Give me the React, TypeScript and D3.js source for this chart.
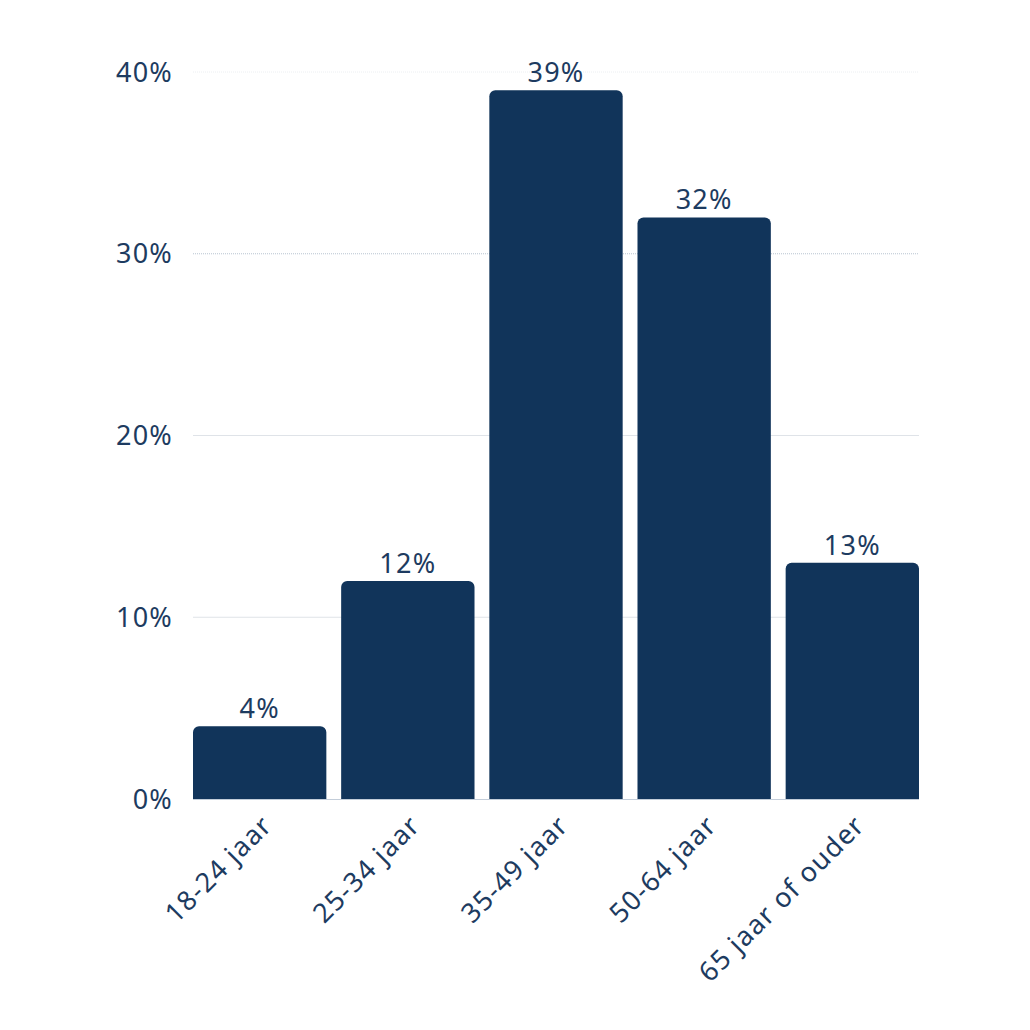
import { useEffect, useRef } from "react";
import * as d3 from "d3";

const categories = [
  "18-24 jaar",
  "25-34 jaar",
  "35-49 jaar",
  "50-64 jaar",
  "65 jaar of ouder",
];
const values = [4, 12, 39, 32, 13];
const yTicks = [0, 10, 20, 30, 40];

const BAR_COLOR = "#11345a";
const TEXT_COLOR = "#1d3b60";
const FONT = "'Noto Sans', sans-serif";
const FONT_SIZE = 27;
const SPACING = 1.2;

export default function App() {
  const svgRef = useRef<SVGSVGElement>(null);

  useEffect(() => {
    const svg = svgRef.current;
    if (!svg) return;
    const selection = d3.select(svg);
    selection.selectAll("*").remove();

    const margin = { top: 72, right: 111, bottom: 231, left: 193 };
    const width = 1030 - margin.left - margin.right;
    const height = 1030 - margin.top - margin.bottom;

    const g = selection
      .append("g")
      .attr("transform", `translate(${margin.left},${margin.top})`);

    const xScale = d3
      .scaleBand<string>()
      .domain(categories)
      .range([0, width])
      .paddingInner(0.1)
      .paddingOuter(0);

    const yScale = d3.scaleLinear().domain([0, 40]).range([height, 0]);

    // Grid lines
    g.append("g")
      .selectAll("line")
      .data(yTicks.filter((t) => t > 0))
      .enter()
      .append("line")
      .attr("x1", 0)
      .attr("x2", width)
      .attr("y1", (d) => yScale(d))
      .attr("y2", (d) => yScale(d))
      .attr("stroke", (d) => (d === 30 ? "#b9c4d1" : d === 40 ? "#eceff2" : "#dfe3e8"))
      .attr("stroke-width", 1)
      .attr("stroke-dasharray", (d) => (d === 30 || d === 40 ? "1 1" : null));

    // Y tick labels
    g.append("g")
      .selectAll("text")
      .data(yTicks)
      .enter()
      .append("text")
      .attr("x", -20)
      .attr("y", (d) => yScale(d))
      .attr("dy", "0.36em")
      .attr("text-anchor", "end")
      .attr("font-family", FONT)
      .attr("font-size", FONT_SIZE)
      .attr("letter-spacing", SPACING)
      .attr("fill", TEXT_COLOR)
      .text((d) => `${d}%`);

    // Bars with rounded tops
    const r = 6;
    g.append("g")
      .selectAll("path")
      .data(values)
      .enter()
      .append("path")
      .attr("fill", BAR_COLOR)
      .attr("d", (d, i) => {
        const x0 = xScale(categories[i]) || 0;
        const x1 = x0 + xScale.bandwidth();
        const y0 = yScale(d);
        const y1 = yScale(0);
        const p = d3.path();
        p.moveTo(x0, y1);
        p.lineTo(x0, y0 + r);
        p.arcTo(x0, y0, x0 + r, y0, r);
        p.lineTo(x1 - r, y0);
        p.arcTo(x1, y0, x1, y0 + r, r);
        p.lineTo(x1, y1);
        p.closePath();
        return p.toString();
      });

    // Baseline
    g.append("line")
      .attr("x1", 0)
      .attr("x2", width)
      .attr("y1", yScale(0) + 0.5)
      .attr("y2", yScale(0) + 0.5)
      .attr("stroke", "#c3cdd9")
      .attr("stroke-width", 1);

    // Value labels
    g.append("g")
      .selectAll("text")
      .data(values)
      .enter()
      .append("text")
      .attr("x", (_d, i) => (xScale(categories[i]) || 0) + xScale.bandwidth() / 2)
      .attr("y", (d) => yScale(d) - 8)
      .attr("text-anchor", "middle")
      .attr("font-family", FONT)
      .attr("font-size", FONT_SIZE)
      .attr("letter-spacing", SPACING)
      .attr("fill", TEXT_COLOR)
      .text((d) => `${d}%`);

    // X labels, rotated
    g.append("g")
      .selectAll("text")
      .data(categories)
      .enter()
      .append("text")
      .attr("transform", (d) => {
        const cx = (xScale(d) || 0) + xScale.bandwidth() / 2 + 14;
        return `translate(${cx},${height + 28}) rotate(-45)`;
      })
      .attr("text-anchor", "end")
      .attr("font-family", FONT)
      .attr("font-size", FONT_SIZE)
      .attr("letter-spacing", SPACING)
      .attr("fill", TEXT_COLOR)
      .text((d) => d);
  }, []);

  return (
    <div style={{ width: 1030, height: 1030, margin: -8, background: "#fff" }}>
      <svg ref={svgRef} width={1030} height={1030} />
    </div>
  );
}
